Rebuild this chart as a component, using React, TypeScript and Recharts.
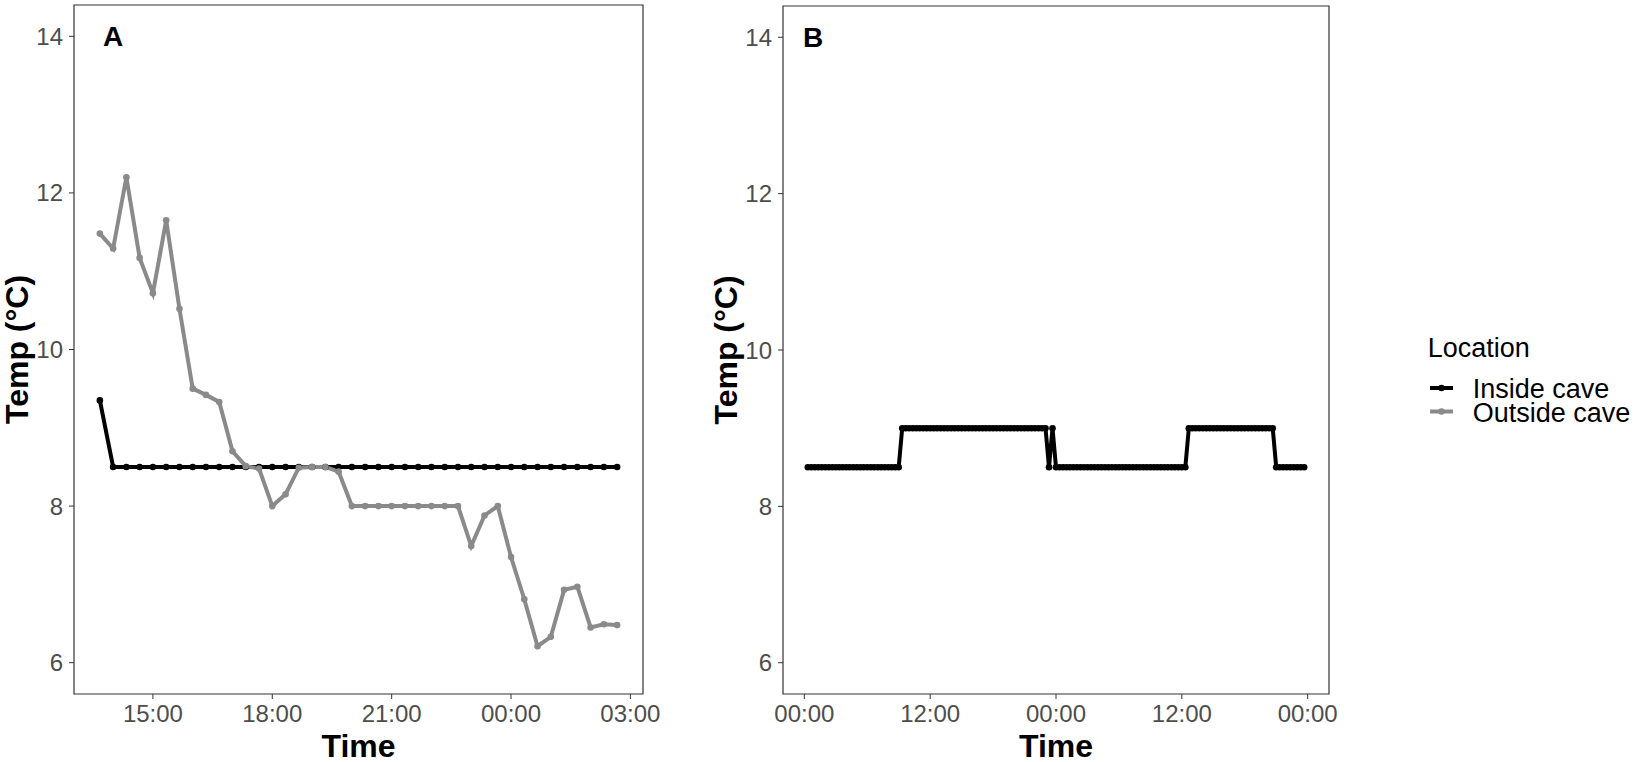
import { LineChart, Line, XAxis, YAxis, ReferenceArea, ReferenceDot, Label, Legend } from "recharts"

const FONT = '"Liberation Sans", Arial, sans-serif'

// Panel A: readings every 20 min, afternoon to early morning
const timesA = [
  "13:40", "14:00", "14:20", "14:40", "15:00", "15:20", "15:40", "16:00", "16:20", "16:40",
  "17:00", "17:20", "17:40", "18:00", "18:20", "18:40", "19:00", "19:20", "19:40", "20:00",
  "20:20", "20:40", "21:00", "21:20", "21:40", "22:00", "22:20", "22:40", "23:00", "23:20",
  "23:40", "00:00", "00:20", "00:40", "01:00", "01:20", "01:40", "02:00", "02:20", "02:40",
]

const insideA = [
  9.35, 8.5, 8.5, 8.5, 8.5, 8.5, 8.5, 8.5, 8.5, 8.5,
  8.5, 8.5, 8.5, 8.5, 8.5, 8.5, 8.5, 8.5, 8.5, 8.5,
  8.5, 8.5, 8.5, 8.5, 8.5, 8.5, 8.5, 8.5, 8.5, 8.5,
  8.5, 8.5, 8.5, 8.5, 8.5, 8.5, 8.5, 8.5, 8.5, 8.5,
]

const outsideA = [
  11.48, 11.29, 12.2, 11.17, 10.72, 11.65, 10.52, 9.5, 9.42, 9.33,
  8.7, 8.51, 8.48, 8.0, 8.15, 8.49, 8.5, 8.5, 8.44, 8.0,
  8.0, 8.0, 8.0, 8.0, 8.0, 8.0, 8.0, 8.0, 7.49, 7.88,
  8.0, 7.35, 6.81, 6.21, 6.33, 6.93, 6.97, 6.45, 6.49, 6.48,
]

// Panel B: two days inside the cave, logger every 20 min starting 00:20
const stepMinB = 20
const firstMinB = 20
const insideB = [
  // 00:20 - 09:00
  8.5, 8.5, 8.5, 8.5, 8.5, 8.5, 8.5, 8.5, 8.5,
  8.5, 8.5, 8.5, 8.5, 8.5, 8.5, 8.5, 8.5, 8.5,
  8.5, 8.5, 8.5, 8.5, 8.5, 8.5, 8.5, 8.5, 8.5,
  // 09:20 - 23:00
  9.0, 9.0, 9.0, 9.0, 9.0, 9.0, 9.0,
  9.0, 9.0, 9.0, 9.0, 9.0, 9.0, 9.0,
  9.0, 9.0, 9.0, 9.0, 9.0, 9.0, 9.0,
  9.0, 9.0, 9.0, 9.0, 9.0, 9.0, 9.0,
  9.0, 9.0, 9.0, 9.0, 9.0, 9.0, 9.0,
  9.0, 9.0, 9.0, 9.0, 9.0, 9.0, 9.0,
  // 23:20, 23:40
  8.5, 9.0,
  // 00:00 - 12:20 (day 2)
  8.5, 8.5, 8.5, 8.5, 8.5, 8.5, 8.5, 8.5, 8.5, 8.5,
  8.5, 8.5, 8.5, 8.5, 8.5, 8.5, 8.5, 8.5, 8.5, 8.5,
  8.5, 8.5, 8.5, 8.5, 8.5, 8.5, 8.5, 8.5, 8.5, 8.5,
  8.5, 8.5, 8.5, 8.5, 8.5, 8.5, 8.5, 8.5,
  // 12:40 - 20:40
  9.0, 9.0, 9.0, 9.0, 9.0,
  9.0, 9.0, 9.0, 9.0, 9.0,
  9.0, 9.0, 9.0, 9.0, 9.0,
  9.0, 9.0, 9.0, 9.0, 9.0,
  9.0, 9.0, 9.0, 9.0, 9.0,
  // 21:00 - 23:40
  8.5, 8.5, 8.5, 8.5, 8.5, 8.5, 8.5, 8.5, 8.5,
]

const ticksA = [15, 18, 21, 24, 27]
const tickLabelsA = ["15:00", "18:00", "21:00", "00:00", "03:00"]
const ticksB = [0, 12, 24, 36, 48]
const tickLabelsB = ["00:00", "12:00", "00:00", "12:00", "00:00"]
const tempTicks = [6, 8, 10, 12, 14]
const tempDomain: [number, number] = [5.6, 14.4]

const legendTitle = "Location"
const seriesNames = ["Inside cave", "Outside cave"]
const seriesColors = ["#000000", "#8a8a8a"]

// clock string -> hours, times before noon belong to the next day
const clockToHours = (s: string) => {
  const [h, m] = s.split(":").map(Number)
  const v = h + m / 60
  return v < 12 ? v + 24 : v
}

const expand = (vals: number[]): [number, number] => {
  const lo = Math.min(...vals)
  const hi = Math.max(...vals)
  const pad = (hi - lo) * 0.05
  return [lo - pad, hi + pad]
}

const dataA = timesA.map((t, i) => ({ t: clockToHours(t), inside: insideA[i], outside: outsideA[i] }))
const dataB = insideB.map((v, i) => ({ t: (firstMinB + i * stepMinB) / 60, inside: v }))
const domainA = expand(dataA.map((d) => d.t))
const domainB = expand(dataB.map((d) => d.t))

const tickStyle = { fill: "#4d4d4d", fontSize: 24, fontFamily: FONT }
const titleStyle = { fill: "#000", fontSize: 32, fontWeight: 700, fontFamily: FONT }
const panelStyle = { fill: "#000", fontSize: 28, fontWeight: 700, fontFamily: FONT }

const dotFor = (c: string) => ({ r: 3.3, fill: c, stroke: c, strokeWidth: 0 })

function LegendBox() {
  return (
    <svg width={217} height={104} style={{ fontFamily: FONT }}>
      <text x={2.7} y={28} fontSize={27} fill="#000">
        {legendTitle}
      </text>
      {seriesNames.map((name, i) => {
        const cy = 59 + i * 23.5
        return (
          <g key={name}>
            <line x1={5} x2={28} y1={cy} y2={cy} stroke={seriesColors[i]} strokeWidth={4} />
            <circle cx={16.5} cy={cy} r={3.3} fill={seriesColors[i]} />
            <text x={47.7} y={cy + 10} fontSize={27} fill="#000">
              {name}
            </text>
          </g>
        )
      })}
    </svg>
  )
}

function PanelA() {
  return (
    <LineChart width={660} height={762} data={dataA} margin={{ top: 5, right: 17, bottom: 0, left: 0 }}>
      <XAxis
        type="number"
        dataKey="t"
        domain={domainA}
        ticks={ticksA}
        interval={0}
        allowDataOverflow
        tickFormatter={(v) => tickLabelsA[ticksA.indexOf(v)]}
        axisLine={false}
        stroke="#333333"
        tickSize={5}
        tickMargin={6}
        tick={tickStyle}
        height={68}
      >
        <Label value="Time" position="insideBottom" offset={5} style={titleStyle} />
      </XAxis>
      <YAxis
        type="number"
        domain={tempDomain}
        ticks={tempTicks}
        interval={0}
        allowDataOverflow
        axisLine={false}
        stroke="#333333"
        tickSize={5}
        tickMargin={6}
        tick={tickStyle}
        width={74}
      >
        <Label value="Temp (°C)" angle={-90} position="insideLeft" offset={17} textAnchor="middle" style={{ ...titleStyle, textAnchor: "middle" }} />
      </YAxis>
      <ReferenceArea x1={domainA[0]} x2={domainA[1]} y1={tempDomain[0]} y2={tempDomain[1]} fill="none" stroke="#333333" strokeWidth={1.2} ifOverflow="visible" />
      <Line type="linear" dataKey="inside" stroke={seriesColors[0]} strokeWidth={4} dot={dotFor(seriesColors[0])} activeDot={false} isAnimationActive={false} />
      <Line type="linear" dataKey="outside" stroke={seriesColors[1]} strokeWidth={4} dot={dotFor(seriesColors[1])} activeDot={false} isAnimationActive={false} />
      <ReferenceDot x={14} y={14} r={0} fill="none" stroke="none" label={{ value: "A", position: "center", style: panelStyle }} />
    </LineChart>
  )
}

function PanelB() {
  return (
    <LineChart width={942} height={762} data={dataB} margin={{ top: 6, right: 313, bottom: 0, left: 0 }}>
      <XAxis
        type="number"
        dataKey="t"
        domain={domainB}
        ticks={ticksB}
        interval={0}
        allowDataOverflow
        tickFormatter={(v) => tickLabelsB[ticksB.indexOf(v)]}
        axisLine={false}
        stroke="#333333"
        tickSize={5}
        tickMargin={6}
        tick={tickStyle}
        height={68}
      >
        <Label value="Time" position="insideBottom" offset={5} style={titleStyle} />
      </XAxis>
      <YAxis
        type="number"
        domain={tempDomain}
        ticks={tempTicks}
        interval={0}
        allowDataOverflow
        axisLine={false}
        stroke="#333333"
        tickSize={5}
        tickMargin={6}
        tick={tickStyle}
        width={83}
      >
        <Label value="Temp (°C)" angle={-90} position="insideLeft" offset={26} textAnchor="middle" style={{ ...titleStyle, textAnchor: "middle" }} />
      </YAxis>
      <ReferenceArea x1={domainB[0]} x2={domainB[1]} y1={tempDomain[0]} y2={tempDomain[1]} fill="none" stroke="#333333" strokeWidth={1.2} ifOverflow="visible" />
      <Line type="linear" dataKey="inside" stroke={seriesColors[0]} strokeWidth={4} dot={dotFor(seriesColors[0])} activeDot={false} isAnimationActive={false} />
      <ReferenceDot x={0.83} y={14} r={0} fill="none" stroke="none" label={{ value: "B", position: "center", style: panelStyle }} />
      <Legend
        layout="vertical"
        align="center"
        verticalAlign="middle"
        wrapperStyle={{ left: 725, top: 329, width: 217, height: 104 }}
        content={() => <LegendBox />}
      />
    </LineChart>
  )
}

export default function App() {
  return (
    <div style={{ position: "absolute", left: 0, top: 0, width: 1642, height: 762, background: "#fff" }}>
      <div style={{ position: "absolute", left: 0, top: 0 }}>
        <PanelA />
      </div>
      <div style={{ position: "absolute", left: 700, top: 0 }}>
        <PanelB />
      </div>
    </div>
  )
}
